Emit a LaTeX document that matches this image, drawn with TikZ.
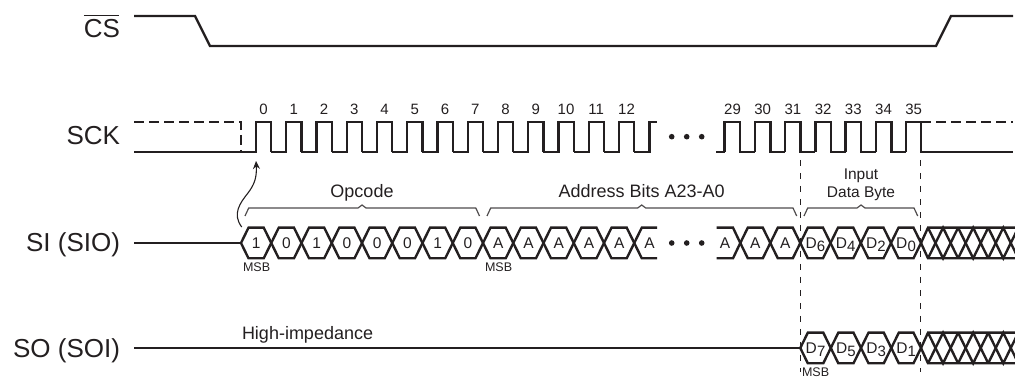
\documentclass[tikz,border=0pt]{standalone}
\usepackage{fontspec}
\setmainfont{Liberation Sans}
\usetikzlibrary{arrows.meta}
\definecolor{ink}{HTML}{231F20}
\newcommand{\fs}[1]{\fontsize{#1}{#1}\selectfont}
\newcommand{\Dsub}[1]{D\kern0.2pt\raisebox{-2.5pt}{\fs{15}#1}}
\tikzset{
  sig/.style={draw=ink,line width=2.4pt,line join=miter},
  sigdash/.style={draw=ink,line width=2.4pt,dash pattern=on 10pt off 5pt},
  guide/.style={draw=ink,line width=1.1pt,dash pattern=on 6pt off 7pt},
  brace/.style={draw=ink!80,line width=1.2pt},
  txt/.style={inner sep=0pt,outer sep=0pt,anchor=base,text=ink},
  big/.style={txt,font=\fs{26}},
  mid/.style={txt,font=\fs{18}},
  tick/.style={txt,font=\fs{15}},
  bit/.style={txt,font=\fs{15.5}},
  tiny/.style={txt,font=\fs{12.5}},
  pulsedot/.style={fill=ink,draw=none}
}
% hexagon of a bus: #1 centre y, #2 half height, #3 left crossing, #4 right crossing
\newcommand{\hexa}[4]{\draw[sig] (#3,#1) -- (#3+7.5,#1-#2) -- (#4-7.5,#1-#2) -- (#4,#1) -- (#4-7.5,#1+#2) -- (#3+7.5,#1+#2) -- cycle;}
\newcommand{\brc}[4]{% left tip x, peak x, right tip x
  \draw[brace] (#1,216) -- (#1+3.7,208) -- (#2-4,208) -- (#2,205) -- (#2+4,208) -- (#3-3.7,208) -- (#3,216);}
\begin{document}
\begin{tikzpicture}[x=1pt,y=-1pt]
\useasboundingbox (0,0) rectangle (1015,379);
\clip (0,0) rectangle (1015,379);
% row labels
\node[big,anchor=base east] (lcs) at (120,38) {CS};
\draw[ink,line width=1.3pt] (lcs.base west) ++(0,-22.3) -- ++(35,0);
\node[big,anchor=base east] (lsck) at (120,145) {SCK};
\node[big,anchor=base east] (lsi) at (120,252) {SI (SIO)};
\node[big,anchor=base east] (lso) at (120,357) {SO (SOI)};
% CS
\draw[sig] (134,16) -- (195,16) -- (210,46) -- (936,46) -- (951,16) -- (1013,16);
% SCK
\draw[sigdash] (134,122) -- (241,122) -- (241,152);
\draw[sig] (134,152) -- (256,152);
\foreach \k in {0,...,12}{
  \pgfmathsetmacro{\xr}{256+30.25*\k}
  \draw[sig] (\xr-15.25,152) -- (\xr,152) -- (\xr,122) -- (\xr+15.25,122) -- (\xr+15.25,152);
}
\draw[sig] (634.3,152) -- (649.5,152) -- (649.5,122) -- (657,122);
\draw[sig] (716,152) -- (724.6,152);
\foreach \k in {0,...,5}{
  \pgfmathsetmacro{\xr}{724.6+30.25*\k}
  \draw[sig] (\xr,152) -- (\xr,122) -- (\xr+15.5,122) -- (\xr+15.5,152) -- (\xr+30.25,152);
}
\draw[sig] (905.8,152) -- (905.8,122) -- (921,122) -- (921,152) -- (1013,152);
\draw[sigdash] (921,122) -- (1013,122);
% clock numbers
\foreach \k in {0,...,12}{
  \pgfmathsetmacro{\xc}{263.5+30.25*\k}
  \node[tick] (n\k) at (\xc,115) {\k};
}
\foreach \k/\j in {29/0,30/1,31/2,32/3,33/4,34/5,35/6}{
  \pgfmathsetmacro{\xc}{732.5+30.2*\j}
  \node[tick] (n\k) at (\xc,115) {\k};
}
% ellipsis dots
\foreach \yy in {136.7,243}{
  \foreach \xx in {671.7,686.7,701.7}{
    \fill[pulsedot] (\xx,\yy) circle (2.8pt);
  }
}
% guide lines
\draw[guide] (800.3,160) -- (800.3,372);
\draw[guide] (920.5,160) -- (920.5,372);
% SI
\draw[sig] (134,243) -- (241,243);
\foreach \b [count=\k from 0] in {1,0,1,0,0,0,1,0,A,A,A,A,A,A}{
  \pgfmathsetmacro{\xa}{241+30.25*\k}
  \pgfmathsetmacro{\xb}{241+30.25*(\k+1)}
  \ifnum\k<13
    \hexa{243}{15.3}{\xa}{\xb}
  \else
    \draw[sig] (657,227.7) -- (\xa+7.5,227.7) -- (\xa,243) -- (\xa+7.5,258.3) -- (657,258.3);
  \fi
  \node[bit] (b\k) at (\xa+15.3,248.7) {\b};
}
\draw[sig] (716.5,227.7) -- (733,227.7) -- (740.3,243) -- (733,258.3) -- (716.5,258.3);
\node[bit] (bA) at (725,248.7) {A};
\hexa{243}{15.3}{740.3}{770.3}
\node[bit] (bB) at (755.3,248.7) {A};
\hexa{243}{15.3}{770.3}{800.3}
\node[bit] (bC) at (785.3,248.7) {A};
\foreach \d/\xa/\xb in {6/800.3/830.5,4/830.5/860.8,2/860.8/891,0/891/921}{
  \hexa{243}{15.3}{\xa}{\xb}
  \node[bit] (dsi\d) at (\xa/2+\xb/2,248.7) {\Dsub{\d}};
}
% SO
\draw[sig] (134,348) -- (800.3,348);
\foreach \d/\xa/\xb in {7/800.3/830.8,5/830.8/861,3/861/891.3,1/891.3/921}{
  \hexa{348}{15.3}{\xa}{\xb}
  \node[bit] (dso\d) at (\xa/2+\xb/2,353.7) {\Dsub{\d}};
}
% hatched bus tails
\foreach \yc in {243,348}{
  \draw[sig] (921,\yc) -- (928,\yc-15.3) -- (1015,\yc-15.3);
  \draw[sig] (921,\yc) -- (928,\yc+15.3) -- (1015,\yc+15.3);
  \foreach \k in {0,...,2}{
    \pgfmathsetmacro{\xa}{928+30.1*\k}
    \draw[sig] (\xa,\yc-15.3) -- (\xa+15.05,\yc+15.3) -- (\xa+30.1,\yc-15.3);
    \draw[sig] (\xa,\yc+15.3) -- (\xa+15.05,\yc-15.3) -- (\xa+30.1,\yc+15.3);
  }
}
% braces
\brc{245}{362}{479.5}{}
\brc{487}{641.7}{796.7}{}
\brc{804}{861}{917.7}{}
% brace labels
\node[mid] (lop) at (362,198) {Opcode};
\node[mid] (lad) at (641.7,198) {Address Bits A23-A0};
\node[txt,font=\fs{15.5}] (lin) at (861,180) {Input};
\node[txt,font=\fs{15.5}] (ldb) at (861,198) {Data Byte};
\node[mid,anchor=base west] (lhz) at (242,340) {High-impedance};
% MSB marks
\node[tiny,anchor=base west] (m1) at (243,272) {MSB};
\node[tiny,anchor=base west] (m2) at (485,272) {MSB};
\node[tiny,anchor=base west] (m3) at (802,377) {MSB};
% causal arrow
\coordinate (wstart) at (241.7,227);
\coordinate (wend) at (256,161);
\draw[ink,line width=1.1pt,-{Stealth[length=8pt,width=7pt]}] (wstart) .. controls (232,214) and (240,203) .. (248,193) .. controls (254,185) and (257,178) .. (wend);
\end{tikzpicture}
\end{document}
